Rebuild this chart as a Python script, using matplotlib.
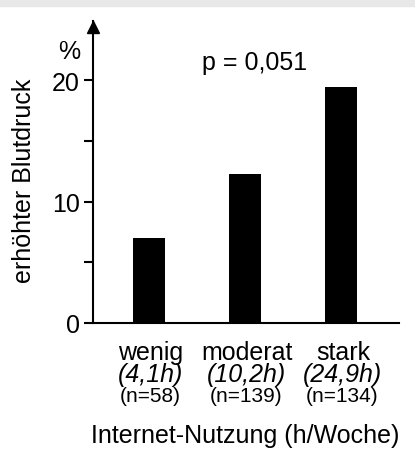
import matplotlib
matplotlib.use("Agg")
from matplotlib import pyplot as plt
from matplotlib.patches import Rectangle
from matplotlib.transforms import offset_copy

plt.rcParams['font.family'] = ['Liberation Sans', 'DejaVu Sans']

groups = ['wenig', 'moderat', 'stark']
hours = ['(4,1h)', '(10,2h)', '(24,9h)']
counts = ['(n=58)', '(n=139)', '(n=134)']
values = [7.0, 12.3, 19.4]
yticks = [0, 5, 10, 15, 20]
yticklabels = ['0', '', '10', '', '20']

fig = plt.figure(figsize=(4.15, 4.52), dpi=100)
fig.patches.append(Rectangle((0, 1 - 7 / 452), 1, 7 / 452, color='#e8e8e8',
                             transform=fig.transFigure, zorder=0))
ax = fig.add_axes([93 / 415, 1 - 324 / 452, 306 / 415, 302 / 452])

x = list(range(len(groups)))
ax.bar(x, values, width=0.34, color='black', zorder=2)

ax.set_xlim(-0.583, 2.604)
ax.set_ylim(0, 24.86)
ax.set_xticks([])
ax.set_yticks(yticks)
ax.set_yticklabels(yticklabels, fontsize=18)
ax.tick_params(axis='y', direction='out', length=6.5, width=1.5, pad=3)
for s in ['top', 'right']:
    ax.spines[s].set_visible(False)
for s in ['left', 'bottom']:
    ax.spines[s].set_linewidth(1.5)

# arrow head on the y axis
ax.plot([0], [1], marker='^', color='black', ms=8, clip_on=False,
        transform=offset_copy(ax.transAxes, fig, y=-5.5, units='dots'))

ax.text(-0.83, 22.4, '%', fontsize=18, ha='center', va='center')
ax.text(1.104, 21.5, 'p = 0,051', fontsize=18, ha='center', va='center')

for i in x:
    ax.text(i + 0.02, -2.35, groups[i], fontsize=18, ha='center', va='center', clip_on=False)
    ax.text(i + 0.02, -4.2, hours[i], fontsize=18, style='italic', ha='center', va='center', clip_on=False)
    ax.text(i + 0.01, -6.0, counts[i], fontsize=15, ha='center', va='center', clip_on=False)
ax.text(1.0, -9.2, 'Internet-Nutzung (h/Woche)', fontsize=18, ha='center', va='center', clip_on=False)

fig.text(24 / 415, 1 - 181 / 452, 'erhöhter Blutdruck', fontsize=18, rotation=90,
         ha='center', va='center')

fig.savefig('out.png', dpi=100)
